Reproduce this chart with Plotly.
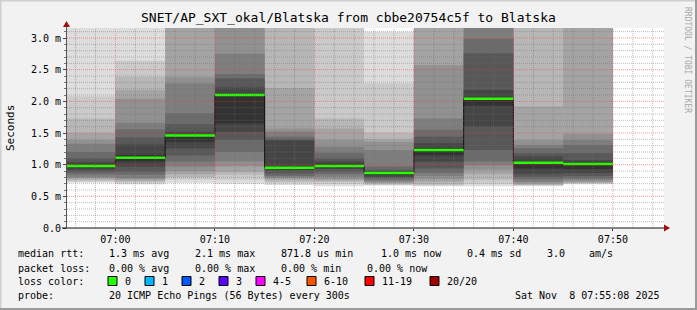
import plotly.graph_objects as go
from datetime import datetime, timedelta

DAY = "2025-11-08"
bar_starts = ["06:55", "07:00", "07:05", "07:10", "07:15", "07:20",
              "07:25", "07:30", "07:35", "07:40", "07:45"]
step_min = 5
medians = [0.98, 1.11, 1.46, 2.10, 0.95, 0.98, 0.87, 1.23, 2.04, 1.03, 1.01]

# 20 sorted ping RTTs (ms) per 5-minute step (values above 3.16 run off the top)
pings_0655 = [0.715, 0.73, 0.75, 0.77, 0.79, 0.81, 0.85, 0.88, 0.92, 0.96,
              1.00, 1.04, 1.10, 1.20, 1.33, 1.39, 1.50, 1.73, 2.08, 3.40]
pings_0700 = [0.69, 0.705, 0.73, 0.75, 0.77, 0.79, 0.84, 0.89, 0.97, 1.05,
              1.15, 1.32, 1.43, 1.56, 1.66, 2.04, 2.18, 2.39, 2.64, 3.40]
pings_0705 = [0.71, 0.76, 0.80, 0.85, 0.90, 0.97, 1.05, 1.15, 1.26, 1.36,
              1.47, 1.52, 1.64, 1.81, 2.28, 2.38, 3.40, 3.40, 3.40, 3.40]
pings_0710 = [0.70, 0.76, 0.84, 0.89, 0.97, 1.05, 1.20, 1.39, 1.52, 1.65,
              2.11, 2.22, 2.36, 2.43, 2.75, 3.40, 3.40, 3.40, 3.40, 3.40]
pings_0715 = [0.68, 0.71, 0.73, 0.76, 0.78, 0.80, 0.82, 0.86, 0.91, 0.94,
              0.97, 1.38, 1.40, 1.44, 1.52, 1.57, 2.21, 3.40, 3.40, 3.40]
pings_0720 = [0.66, 0.70, 0.73, 0.75, 0.77, 0.81, 0.85, 0.89, 0.93, 0.96,
              1.01, 1.05, 1.10, 1.19, 1.28, 1.39, 1.57, 1.73, 3.40, 3.40]
pings_0725 = [0.67, 0.68, 0.69, 0.71, 0.72, 0.74, 0.76, 0.79, 0.81, 0.85,
              0.88, 0.90, 0.92, 0.97, 1.23, 1.36, 1.40, 1.50, 2.28, 3.10]
pings_0730 = [0.66, 0.67, 0.69, 0.73, 0.77, 0.82, 0.87, 0.94, 1.05, 1.15,
              1.26, 1.34, 1.44, 1.55, 1.73, 2.57, 3.40, 3.40, 3.40, 3.40]
pings_0735 = [0.66, 0.70, 0.76, 0.85, 0.92, 0.99, 1.05, 1.23, 1.60, 1.93,
              2.06, 2.18, 2.76, 2.99, 3.40, 3.40, 3.40, 3.40, 3.40, 3.40]
pings_0740 = [0.66, 0.67, 0.68, 0.69, 0.71, 0.73, 0.77, 0.81, 0.86, 0.94,
              1.05, 1.13, 1.18, 1.26, 1.31, 1.39, 1.92, 3.40, 3.40, 3.40]
pings_0745 = [0.69, 0.70, 0.71, 0.72, 0.73, 0.76, 0.78, 0.82, 0.87, 0.93,
              1.03, 1.07, 1.18, 1.31, 1.39, 1.49, 3.40, 3.40, 3.40, 3.40]
all_pings = [pings_0655, pings_0700, pings_0705, pings_0710, pings_0715, pings_0720,
             pings_0725, pings_0730, pings_0735, pings_0740, pings_0745]

y_tick_vals = [0.0, 0.5, 1.0, 1.5, 2.0, 2.5, 3.0]
y_tick_text = ["0.0", "0.5 m", "1.0 m", "1.5 m", "2.0 m", "2.5 m", "3.0 m"]
x_tick_labels = ["07:00", "07:10", "07:20", "07:30", "07:40", "07:50"]
x_start, x_end = "06:55:08", "07:55:08"
y_top = 3.158

loss_labels = ["0", "1", "2", "3", "4-5", "6-10", "11-19", "20/20"]
loss_colors = ["#26ff00", "#00b8ff", "#0059ff", "#5e00ff", "#ff00ff", "#ff5500", "#ff0000", "#a10000"]


def t(hm):
    fmt = "%Y-%m-%d %H:%M:%S" if hm.count(":") == 2 else "%Y-%m-%d %H:%M"
    return datetime.strptime(f"{DAY} {hm}", fmt)


starts = [t(s) for s in bar_starts]
ends = [s + timedelta(minutes=step_min) for s in starts]
centers = [s + timedelta(minutes=step_min / 2) for s in starts]

FONT = "DejaVu Sans Mono"
W, H = 697, 310
L, R, T, B = 67, 33, 28, 82
PW, PH = W - L - R, H - T - B


def px(x):
    return (x - L) / PW


def py(y):
    return (T + PH - y) / PH


fig = go.Figure()

# smoke rings (outer light -> inner dark)
n = 20
half = n // 2
for i in range(1, half + 1):
    g = int(190 / half * (half - i)) + 50
    col = f"rgb({g},{g},{g})"
    base = [p[i - 1] for p in all_pings]
    length = [p[n - i] - p[i - 1] for p in all_pings]
    fig.add_trace(go.Bar(x=centers, y=length, base=base, width=step_min * 60000,
                         marker=dict(color=col, line=dict(width=0)),
                         hoverinfo="skip", showlegend=False))

# median step line (dark) and green loss-colored median
fig.add_trace(go.Scatter(x=starts + [ends[-1]], y=medians + [medians[-1]],
                         mode="lines", line=dict(color="#101010", width=1, shape="hv"),
                         hoverinfo="skip", showlegend=False))
gx, gy = [], []
for s, e, m in zip(starts, ends, medians):
    gx += [s, e, None]
    gy += [m, m, None]
fig.add_trace(go.Scatter(x=gx, y=gy, mode="lines",
                         line=dict(color=loss_colors[0], width=2.5),
                         hoverinfo="skip", showlegend=False))

shapes = []
minor_col = "rgba(110,110,110,0.45)"
major_col = "rgba(235,60,60,0.5)"
dash = "1px,1px"
# horizontal grid
for k in range(1, 32):
    v = k / 10
    if v > y_top:
        break
    col = major_col if k % 5 == 0 else minor_col
    shapes.append(dict(type="line", xref="paper", x0=0, x1=1, yref="y", y0=v, y1=v,
                       line=dict(color=col, width=1, dash=dash), layer="above"))
# vertical grid
gt = t("06:56")
while gt < t(x_end):
    major = gt.minute % 10 == 0
    shapes.append(dict(type="line", xref="x", x0=gt, x1=gt, yref="paper", y0=0, y1=1,
                       line=dict(color=major_col if major else minor_col, width=1, dash=dash),
                       layer="above"))
    gt += timedelta(minutes=2)

# axes lines and arrows
shapes.append(dict(type="line", xref="paper", yref="paper", x0=px(66.5), x1=px(66.5),
                   y0=py(228), y1=py(25), line=dict(color="#555555", width=1), layer="above"))
shapes.append(dict(type="line", xref="paper", yref="paper", x0=px(62), x1=px(665),
                   y0=py(228), y1=py(228), line=dict(color="#111111", width=1), layer="above"))
shapes.append(dict(type="path", xref="paper", yref="paper",
                   path=f"M {px(66.5)} {py(21)} L {px(63)} {py(27)} L {px(70)} {py(27)} Z",
                   fillcolor="#a01010", line=dict(width=0), layer="above"))
shapes.append(dict(type="path", xref="paper", yref="paper",
                   path=f"M {px(670)} {py(228)} L {px(664)} {py(224.5)} L {px(664)} {py(231.5)} Z",
                   fillcolor="#a01010", line=dict(width=0), layer="above"))

# outer border
shapes.append(dict(type="line", xref="paper", yref="paper", x0=px(0), x1=px(697), y0=py(0.5), y1=py(0.5),
                   line=dict(color="#cfcfcf", width=2)))
shapes.append(dict(type="line", xref="paper", yref="paper", x0=px(0.5), x1=px(0.5), y0=py(0), y1=py(310),
                   line=dict(color="#cfcfcf", width=2)))
shapes.append(dict(type="line", xref="paper", yref="paper", x0=px(0), x1=px(697), y0=py(309), y1=py(309),
                   line=dict(color="#9a9a9a", width=2)))
shapes.append(dict(type="line", xref="paper", yref="paper", x0=px(696), x1=px(696), y0=py(0), y1=py(310),
                   line=dict(color="#9a9a9a", width=2)))

annotations = []


def txt(x, y, s, size=10, anchor="left", color="#000000", angle=0):
    annotations.append(dict(x=px(x), y=py(y), xref="paper", yref="paper", text=s, showarrow=False,
                            xanchor=anchor, yanchor="middle", textangle=angle,
                            font=dict(family=FONT, size=size, color=color)))


txt(348, 18, "SNET/AP_SXT_okal/Blatska from cbbe20754c5f to Blatska", size=13, anchor="center")
txt(10, 128, "Seconds", size=11, anchor="center", angle=-90)
txt(688, 60, "RRDTOOL / TOBI OETIKER", size=8, anchor="center", color="#a8a8a8", angle=90)

line1 = [(16, "median rtt:"), (107, "1.3 ms avg"), (193, "2.1 ms max"), (279, "871.8 us min"),
         (379, "1.0 ms now"), (465, "0.4 ms sd"), (545, "3.0"), (587, "am/s")]
line2 = [(16, "packet loss:"), (107, "0.00 % avg"), (193, "0.00 % max"), (279, "0.00 % min"),
         (365, "0.00 % now")]
line4 = [(16, "probe:"), (107, "20 ICMP Echo Pings (56 Bytes) every 300s"),
         (513, "Sat Nov&nbsp;&nbsp;8 07:55:08 2025")]
for x, s in line1:
    txt(x, 254, s)
for x, s in line2:
    txt(x, 268, s)
txt(16, 281, "loss color:")
box_x = [108, 145, 182, 219, 256, 307, 365, 430]
for bx, lab, col in zip(box_x, loss_labels, loss_colors):
    shapes.append(dict(type="rect", xref="paper", yref="paper", x0=px(bx), x1=px(bx + 9),
                       y0=py(276.5), y1=py(285.5), fillcolor=col,
                       line=dict(color="#000000", width=1)))
    txt(bx + 15, 281, lab)
for x, s in line4:
    txt(x, 295, s)

fig.update_layout(
    width=W, height=H, margin=dict(l=L, r=R, t=T, b=B, pad=0),
    paper_bgcolor="#f2f2f2", plot_bgcolor="#ffffff",
    barmode="overlay", showlegend=False,
    shapes=shapes, annotations=annotations,
    font=dict(family=FONT, size=10, color="#000000"),
    xaxis=dict(type="date", range=[t(x_start), t(x_end)], showgrid=False, zeroline=False,
               tickvals=[t(s) for s in x_tick_labels], ticktext=x_tick_labels,
               ticks="outside", ticklen=2, tickcolor="#333333", showline=False,
               tickfont=dict(family=FONT, size=10, color="#000000")),
    yaxis=dict(range=[0, y_top], showgrid=False, zeroline=False,
               tickvals=y_tick_vals, ticktext=y_tick_text,
               ticks="outside", ticklen=3, tickcolor="#444444", showline=False,
               tickfont=dict(family=FONT, size=10, color="#000000"),
               minor=dict(ticks="outside", ticklen=2, dtick=0.1, tickcolor="#777777", showgrid=False)),
)

fig.write_html("out.html")
